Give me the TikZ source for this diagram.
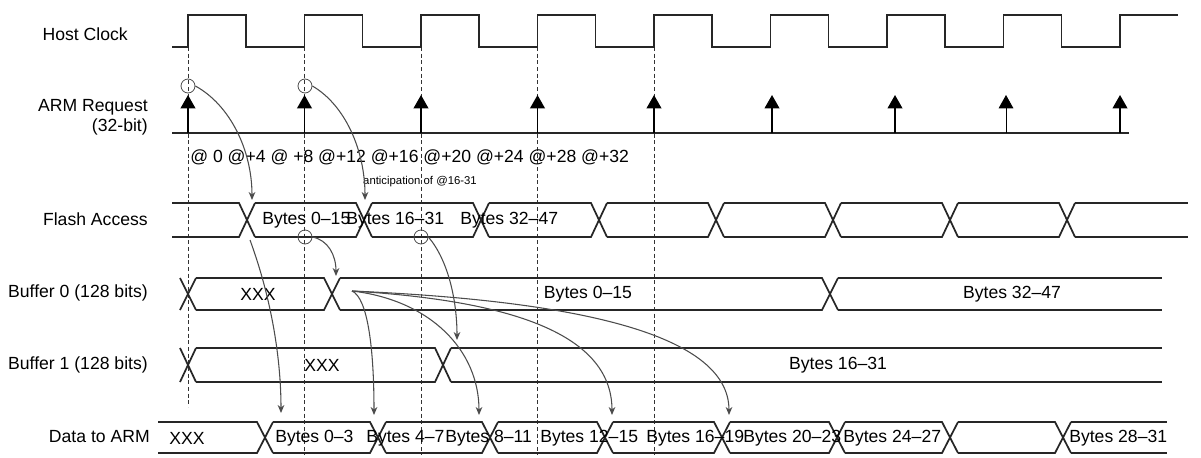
\documentclass[tikz,border=0pt]{standalone}
\usepackage{fontspec}
\setmainfont{Liberation Sans}
\usetikzlibrary{arrows.meta}
\tikzset{
  sig/.style={line width=1.3pt,black!85},
  guide/.style={densely dashed,line width=0.6pt,black!80},
  lbl/.style={font=\fontsize{13.2}{15}\selectfont,inner sep=0pt},
  rowlbl/.style={lbl,anchor=east,align=right},
  req/.style={line width=1.3pt,-{Triangle[width=11pt,length=10pt]}},
  cur/.style={line width=0.8pt,black!70,-{Stealth[width=5pt,length=6pt]}},
  circ/.style={draw=black!70,line width=0.6pt,circle,minimum size=10.5pt,inner sep=0pt}
}
\newcommand\busrow[5]{%
  \xdef\prevx{#3}%
  \foreach \x in {#4}{%
    \draw[sig] (\prevx,#1) -- (\x-8,#1) -- (\x+8,#2) (\prevx,#2) -- (\x-8,#2) -- (\x+8,#1);
    \pgfmathsetmacro\nx{\x+8}\xdef\prevx{\nx}}%
  \draw[sig] (\prevx,#1) -- (#5,#1) (\prevx,#2) -- (#5,#2);}
\begin{document}
\begin{tikzpicture}[x=0.75pt,y=-0.75pt]
\useasboundingbox (0,0) rectangle (1201,457);
% row labels
\node[rowlbl] (lclk) at (128,34) {Host Clock};
\node[rowlbl] (lreq) at (148,117) {ARM Request\\(32-bit)};
\node[rowlbl] (lfl) at (148,219) {Flash Access};
\node[rowlbl] (lb0) at (148,293) {Buffer 0 (128 bits)};
\node[rowlbl] (lb1) at (148,365) {Buffer 1 (128 bits)};
\node[rowlbl] (lda) at (150,437) {Data to ARM};
% dashed guides
\draw[guide] (188,47) -- (188,407);
\foreach \x in {304.5,421,537.5,654}{\draw[guide] (\x,47) -- (\x,455);}
% clock
\draw[sig] (172,47)
  \foreach \r in {188,304.5,421,537.5,654,770.5,887,1003.5}{ -- (\r,47) -- (\r,15) -- (\r+58,15) -- (\r+58,47)}
  -- (1120,47) -- (1120,15) -- (1178,15);
% requests
\draw[sig] (172,133) -- (1129,133);
\foreach \x in {188,304.5,421,537.5,654,772,895,1120}{\draw[req] (\x,133) -- (\x,95);}
\draw[line width=0.7pt,-{Triangle[width=11pt,length=10pt]}] (1006,133) -- (1006,95);
\node[circ] (c1) at (188,86) {};
\node[circ] (c2) at (305,86) {};
\node[lbl,anchor=west] (addr) at (190,157) {@ 0 @+4 @ +8 @+12 @+16 @+20 @+24 @+28 @+32};
\node[inner sep=0pt,font=\fontsize{8.5}{10}\selectfont] (ant) at (420,182) {anticipation of @16-31};
% flash
\busrow{203}{237}{172}{247,364,481,599,716,833,950,1067}{1188}
\node[lbl,anchor=west] (f1) at (262,220) {Bytes 0–15};
\node[lbl,anchor=west] (f2) at (346,220) {Bytes 16–31};
\node[lbl,anchor=west] (f3) at (460,220) {Bytes 32–47};
\node[circ] (c3) at (305,237) {};
\node[circ] (c4) at (421,237) {};
% buffers
\busrow{278}{310}{180}{188,332,830}{1162}
\node[lbl] (b0a) at (258,294) {XXX};
\node[lbl] (b0b) at (588,294) {Bytes 0–15};
\node[lbl] (b0c) at (1012,294) {Bytes 32–47};
\busrow{348}{382}{180}{188,443}{1162}
\node[lbl] (b1a) at (322,365) {XXX};
\node[lbl] (b1b) at (838,365) {Bytes 16–31};
% data
\busrow{422}{453}{158}{265,378,490,605,722,837,950,1063}{1167}
\node[lbl] (d0) at (187,438) {XXX};
\node[lbl,anchor=west] (d1) at (275,438) {Bytes 0–3};
\node[lbl,anchor=west] (d2) at (366,438) {Bytes 4–7};
\node[lbl,anchor=west] (d3) at (445,438) {Bytes 8–11};
\node[lbl,anchor=west] (d4) at (540,438) {Bytes 12–15};
\node[lbl,anchor=west] (d5) at (646,438) {Bytes 16–19};
\node[lbl,anchor=west] (d6) at (743,438) {Bytes 20–23};
\node[lbl,anchor=west] (d7) at (843,438) {Bytes 24–27};
\node[lbl,anchor=west] (d8) at (1069,438) {Bytes 28–31};
% curved arrows
\coordinate (fan) at (352,291);
\draw[cur] (c1.east) .. controls (230,105) and (252,150) .. (252,200);
\draw[cur] (c2.east) .. controls (345,105) and (365,150) .. (365,200);
\draw[cur] (250,240) .. controls (272,300) and (281,360) .. (281,413);
\draw[cur] (c3.east) .. controls (328,240) and (336,255) .. (336,276);
\draw[cur] (c4.east) .. controls (448,260) and (457,300) .. (457,340);
\draw[cur] (fan) .. controls (368,298) and (374,350) .. (374,415);
\draw[cur] (fan) .. controls (430,300) and (479,350) .. (479,415);
\draw[cur] (fan) .. controls (500,300) and (612,330) .. (612,415);
\draw[cur] (fan) .. controls (560,300) and (729,330) .. (729,415);
\end{tikzpicture}
\end{document}
